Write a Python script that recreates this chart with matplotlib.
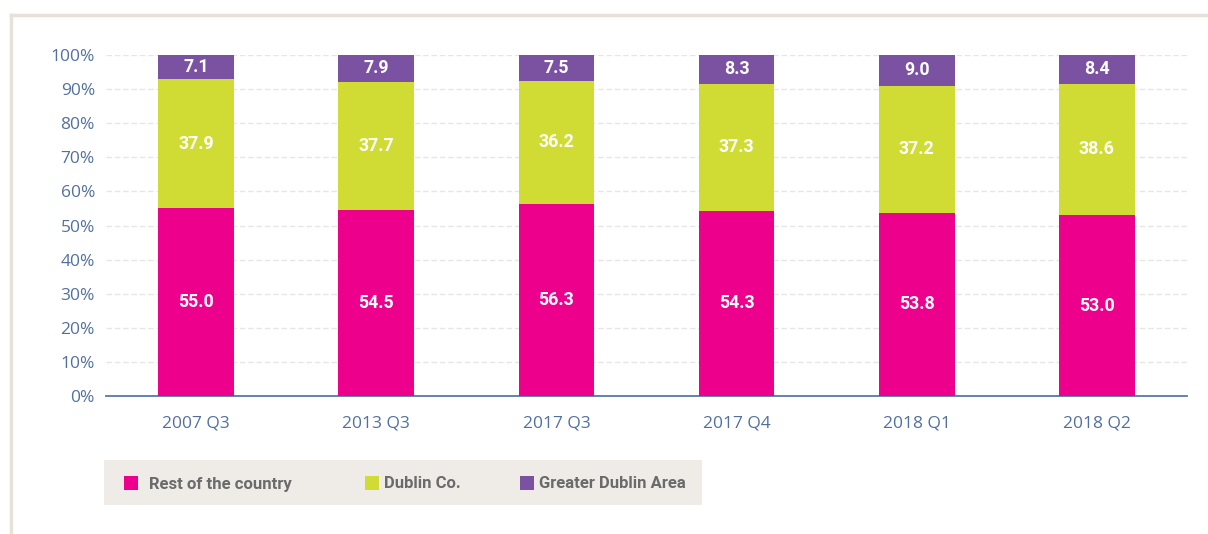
import matplotlib
matplotlib.use("Agg")
import matplotlib.pyplot as plt
from matplotlib.lines import Line2D
from matplotlib.patches import Rectangle
import numpy as np

categories = ["2007 Q3", "2013 Q3", "2017 Q3", "2017 Q4", "2018 Q1", "2018 Q2"]
rest = [55.0, 54.5, 56.3, 54.3, 53.8, 53.0]
dublin = [37.9, 37.7, 36.2, 37.3, 37.2, 38.6]
gda = [7.1, 7.9, 7.5, 8.3, 9.0, 8.4]
series_names = ["Rest of the country", "Dublin Co.", "Greater Dublin Area"]
colors = ["#ec008c", "#d0dc33", "#7b52a1"]
yticks = [0, 10, 20, 30, 40, 50, 60, 70, 80, 90, 100]

W, H = 1208, 534
fig = plt.figure(figsize=(W / 100, H / 100), dpi=100)
plt.rcParams['font.family'] = ['Open Sans', 'DejaVu Sans']
BOLD = ['Roboto', 'DejaVu Sans']

def fx(px):
    return px / W

def fy(py):
    return 1 - py / H

# frame
fig.add_artist(Line2D([fx(11), 1], [fy(15), fy(15)], color="#e8e1da", lw=2.5))
fig.add_artist(Line2D([fx(11), fx(11)], [fy(15), 0], color="#e8e1da", lw=2.5))

ax = fig.add_axes([fx(106), fy(396), fx(1187) - fx(106), fy(55) - fy(396)])
x = np.arange(len(categories))
width = 0.42
bottom = np.zeros(len(categories))
for vals, col in zip([rest, dublin, gda], colors):
    vals = np.array(vals)
    top = np.minimum(bottom + vals, 100)
    h = top - bottom
    ax.bar(x, h, width, bottom=bottom, color=col, zorder=3)
    for xi, b, hv, v in zip(x, bottom, h, vals):
        ax.text(xi, b + hv / 2, f"{v:.1f}", ha="center", va="center",
                color="white", fontsize=12.8, fontweight="bold", family=BOLD, zorder=4)
    bottom = top

ax.set_xlim(-0.5, len(categories) - 0.5)
ax.set_ylim(0, 100)
ax.set_yticks(yticks)
ax.set_yticklabels([f"{t}%" for t in yticks])
ax.set_xticks(x)
ax.set_xticklabels(categories)
for s in ["top", "right", "left"]:
    ax.spines[s].set_visible(False)
ax.spines["bottom"].set_color("#5a77a8")
ax.spines["bottom"].set_linewidth(1.3)
ax.tick_params(axis="both", length=0, colors="#52709f", labelsize=12.5)
ax.tick_params(axis="y", pad=8)
ax.tick_params(axis="x", pad=14)
ax.yaxis.grid(True, color="#e6e6e6", linestyle=(0, (4, 2)), lw=1, zorder=0)
ax.set_axisbelow(True)

# legend box
fig.add_artist(Rectangle((fx(104), fy(505)), fx(702) - fx(104), fy(460) - fy(505),
                         facecolor="#efebe7", edgecolor="none"))
leg_items = [(124, 149), (365, 384), (520, 539)]
for (px, tx), name, col in zip(leg_items, series_names, colors):
    fig.add_artist(Rectangle((fx(px), fy(490)), fx(14), fy(476) - fy(490),
                             facecolor=col, edgecolor="none"))
    fig.text(fx(tx), fy(484), name, ha="left", va="center", color="#6b6b6b",
             fontsize=12, fontweight="bold", family=BOLD)

fig.savefig("out.png", dpi=100)
